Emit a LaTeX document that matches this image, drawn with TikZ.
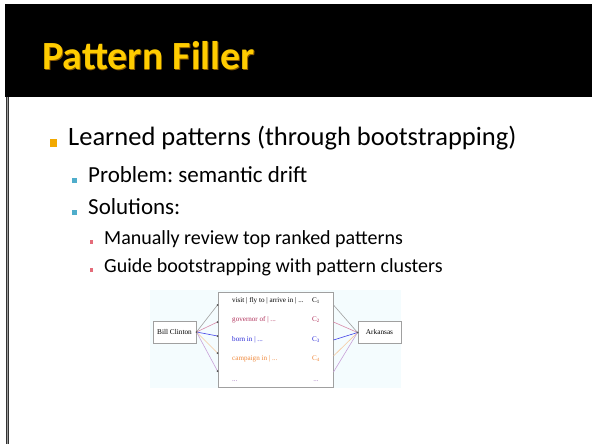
\documentclass[tikz,border=0pt]{standalone}
\usepackage{fontspec}
\setmainfont{Carlito}
\newfontfamily\serifdiag{Liberation Serif}
\frenchspacing
\definecolor{titlegold}{HTML}{FFCC00}
\definecolor{titleshade}{HTML}{8A5A00}
\definecolor{bulletA}{HTML}{F2A900}
\definecolor{bulletB}{HTML}{4FADCB}
\definecolor{bulletC}{HTML}{E46C7A}
\definecolor{framegray}{HTML}{9A9A9A}
\definecolor{diagbg}{HTML}{F4FCFE}
\definecolor{boxline}{HTML}{A0A0A0}
\definecolor{rowB}{HTML}{B0305A}
\definecolor{rowC}{HTML}{2A2AD8}
\definecolor{rowD}{HTML}{F0883A}
\definecolor{rowE}{HTML}{9A6AB8}
\definecolor{edgeA}{HTML}{A0A0A0}
\definecolor{edgeB}{HTML}{D88AA8}
\definecolor{edgeC}{HTML}{4040E8}
\definecolor{edgeD}{HTML}{F6C89C}
\definecolor{edgeE}{HTML}{C8A0D8}
\tikzset{
  sqA/.style={fill=bulletA, draw=none, minimum size=7.5pt, inner sep=0pt},
  sqB/.style={fill=bulletB, draw=none, minimum size=5pt, inner sep=0pt},
  sqC/.style={fill=bulletC, draw=none, minimum width=3.5pt, minimum height=4.5pt, inner sep=0pt},
  txtA/.style={anchor=mid west, inner sep=0pt, font=\fontsize{26.5}{28}\selectfont},
  txtB/.style={anchor=mid west, inner sep=0pt, font=\fontsize{23}{25}\selectfont},
  txtC/.style={anchor=mid west, inner sep=0pt, font=\fontsize{20}{22}\selectfont},
  titletxt/.style={anchor=base west, inner sep=0pt, font=\fontsize{40}{42}\selectfont\bfseries},
  entity/.style={draw=boxline, fill=white, line width=1pt, inner sep=0pt,
    minimum width=43pt, minimum height=22pt, font=\serifdiag\fontsize{7.3}{8}\selectfont},
  rowtxt/.style={anchor=mid west, inner sep=0pt, font=\serifdiag\fontsize{7.1}{8}\selectfont},
  ctxt/.style={anchor=mid, inner sep=0pt, font=\serifdiag\fontsize{7.1}{8}\selectfont},
  link/.style={line width=0.6pt},
  pin/.style={circle, fill=black!65, inner sep=0pt, minimum size=2pt}
}
\begin{document}
\begin{tikzpicture}[x=1pt,y=-1pt]
\useasboundingbox (0,0) rectangle (592,444);
\fill[white] (0,0) rectangle (592,444);
% header band and left rule
\fill[black] (5,4) rectangle (592,97);
\draw[black!80, line width=2.8pt] (7.8,97) -- (7.8,444);
\draw[framegray, line width=1.2pt] (7.8,97) -- (7.8,444);
\node[titletxt, text=titleshade] (titleshadow) at (42.8,70.8) {Pattern Filler};
\node[titletxt, text=titlegold] (title) at (42,70) {Pattern Filler};

% bullet list
\node[sqA] (b1) at (53.5,143) {};
\node[txtA] (t1) at (68,143) {Learned patterns (through bootstrapping)};
\node[sqB] (b2) at (74.5,180) {};
\node[txtB] (t2) at (88,180) {Problem: semantic drift};
\node[sqB] (b3) at (74.5,212) {};
\node[txtB] (t3) at (88,212) {Solutions:};
\node[sqC] (b4) at (91.5,242) {};
\node[txtC] (t4) at (104,242) {Manually review top ranked patterns};
\node[sqC] (b5) at (91.5,270) {};
\node[txtC] (t5) at (104,270) {Guide bootstrapping with pattern clusters};

% pattern-cluster figure
\fill[diagbg] (150,290) rectangle (401,388);
\node[draw=boxline, fill=white, line width=1pt, inner sep=0pt,
      minimum width=115pt, minimum height=95pt] (mid) at (275.5,339.5) {};
\node[entity] (bc) at (174.5,332) {Bill Clinton};
\node[entity] (ar) at (379.5,332.5) {Arkansas};

\foreach \i/\y in {1/305, 2/322, 3/336, 4/353, 5/371} {
  \coordinate (l\i) at (mid.west |- 0,\y);
}
\foreach \i/\y in {1/305, 2/322, 3/340, 4/356, 5/372} {
  \coordinate (r\i) at (mid.east |- 0,\y);
}
\node[rowtxt, text=black] (p1) at (232,300) {visit | fly to | arrive in | ...};
\node[rowtxt, text=rowB] (p2) at (232,319.5) {governor of | ...};
\node[rowtxt, text=rowC] (p3) at (232,339) {born in | ...};
\node[rowtxt, text=rowD] (p4) at (232,358.5) {campaign in | ...};
\node[rowtxt, text=rowE] (p5) at (232,379) {...};
\node[ctxt, text=black] (c1) at (316,300) {C\textsubscript{1}};
\node[ctxt, text=rowB] (c2) at (316,319.5) {C\textsubscript{2}};
\node[ctxt, text=rowC] (c3) at (316,339) {C\textsubscript{3}};
\node[ctxt, text=rowD] (c4) at (316,358.5) {C\textsubscript{4}};
\node[ctxt, text=rowE] (c5) at (316,379) {...};

% links from the subject to each cluster and on to the object
\draw[link, edgeA] (bc.east) -- (l1);
\draw[link, edgeB] (bc.east) -- (l2);
\draw[link, edgeC] (bc.east) -- (l3);
\draw[link, edgeD] (bc.east) -- (l4);
\draw[link, edgeE] (bc.east) -- (l5);
\draw[link, edgeA] (r1) -- (ar.west);
\draw[link, edgeB] (r2) -- (ar.west);
\draw[link, edgeC] (r3) -- (ar.west);
\draw[link, edgeD] (r4) -- (ar.west);
\draw[link, edgeE] (r5) -- (ar.west);
\foreach \i in {1,...,5} { \node[pin] (dot\i) at (l\i) {}; }
\node[pin] (dotbc) at (bc.east) {};
\node[pin] (dotar) at (ar.west) {};
\end{tikzpicture}
\end{document}
